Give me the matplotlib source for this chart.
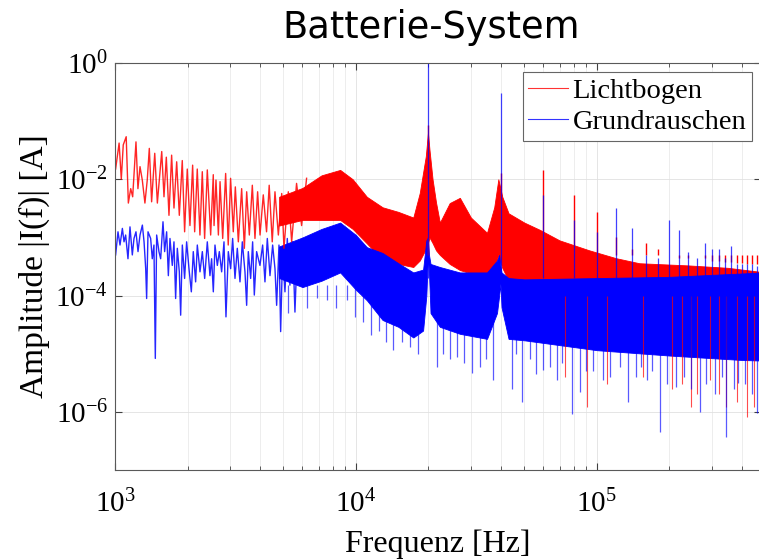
import matplotlib

matplotlib.use("Agg")
import matplotlib.pyplot as plt
from matplotlib.lines import Line2D
from matplotlib.ticker import LogLocator, NullLocator

plt.rcParams["font.family"] = ["Liberation Serif", "DejaVu Serif"]
plt.rcParams["mathtext.fontset"] = "stix"
plt.rcParams["axes.unicode_minus"] = False

# --- low frequency part, read peak by peak (Hz, A) ---
red_lf_freq = [1006, 1040, 1062, 1082, 1113, 1136, 1162, 1184, 1222, 1245, 1270, 1298, 1331, 1361, 1388,
               1419, 1462, 1499, 1563, 1597, 1633, 1675, 1718, 1757, 1803, 1849, 1902, 1945, 1995, 2047,
               2100, 2141, 2195, 2252, 2303, 2355, 2416, 2495, 2558, 2577, 2625, 2686, 2729, 2799, 2879,
               2951, 3018, 3097, 3158, 3250, 3355, 3443, 3520, 3610, 3715, 3810, 3908, 3999, 4125, 4256,
               4365, 4494, 4613, 4764, 4920, 5027, 5240, 5410, 5670, 5950, 6240]
red_lf_amp = [1.5e-2, 4.2e-2, 1.0e-2, 3.9e-2, 5.4e-2, 3.9e-3, 6.9e-3, 5.0e-3, 4.4e-2, 6.9e-3, 1.65e-2, 9.7e-3,
              3.9e-3, 9.7e-3, 3.4e-2, 4.1e-3, 2.8e-2, 3.9e-3, 3.0e-2, 5.0e-3, 2.4e-2, 2.4e-3, 2.6e-2, 3.2e-3,
              2.0e-2, 2.4e-3, 2.1e-2, 1.25e-3, 1.5e-2, 1.6e-3, 1.75e-2, 1.25e-3, 1.5e-2, 1.1e-3, 1.35e-2,
              9.6e-4, 1.45e-2, 1.1e-3, 1.2e-2, 1.6e-3, 9.7e-3, 1.1e-3, 9.1e-3, 9.6e-4, 1.26e-2, 7.4e-4,
              1.04e-2, 1.25e-3, 7.4e-3, 8.4e-4, 6.9e-3, 6.5e-4, 6.1e-3, 1.1e-3, 7.9e-3, 9.6e-4, 6.1e-3,
              1.1e-3, 5.4e-3, 1.25e-3, 7.9e-3, 8.4e-4, 6.1e-3, 1.1e-3, 5.7e-3, 6.5e-4, 6.1e-3, 8.4e-4,
              8.5e-3, 1.6e-3, 1.04e-2]

blue_lf_freq = [1006, 1029, 1049, 1073, 1090, 1107, 1132, 1154, 1180, 1199, 1222, 1246, 1270, 1299, 1320,
                1341, 1353, 1371, 1406, 1428, 1451, 1470, 1489, 1522, 1547, 1582, 1607, 1638, 1665, 1691,
                1729, 1757, 1785, 1814, 1849, 1873, 1903, 1945, 1983, 2028, 2074, 2113, 2161, 2196, 2253,
                2304, 2356, 2416, 2478, 2518, 2559, 2600, 2659, 2710, 2771, 2834, 2888, 2953, 3020, 3078,
                3148, 3218, 3302, 3376, 3463, 3519, 3575, 3656, 3726, 3786, 3871, 3996, 4100, 4192, 4287,
                4398, 4511, 4613, 4687, 4793, 4870, 4963, 5075, 5189, 5322, 5460, 5583, 5709, 5855, 6007,
                6162, 6341]
blue_lf_amp = [5.0e-4, 1.25e-3, 7.4e-4, 1.43e-3, 8.4e-4, 1.1e-3, 4.3e-4, 1.52e-3, 5.0e-4, 9.6e-4, 1.25e-3,
               5.7e-4, 1.1e-3, 1.63e-3, 8.4e-4, 2.9e-4, 8.9e-5, 1.25e-3, 9.6e-4, 4.3e-4, 7.4e-4, 8.3e-6,
               1.1e-3, 5.7e-4, 4.3e-4, 1.86e-3, 5.7e-4, 1.25e-3, 2.2e-4, 9.6e-4, 3.3e-4, 8.4e-4, 8.9e-5,
               6.5e-4, 2.56e-4, 4.6e-5, 7.4e-4, 1.97e-4, 8.4e-4, 2.9e-4, 1.16e-4, 5.7e-4, 1.72e-4, 7.4e-4,
               2.56e-4, 5.7e-4, 1.97e-4, 8.4e-4, 2.2e-4, 4.3e-4, 1.16e-4, 7.4e-4, 3.3e-4, 5.7e-4, 2.56e-4,
               8.4e-4, 4.3e-5, 5.7e-4, 2.9e-4, 9.6e-4, 1.97e-4, 6.5e-4, 1.72e-4, 8.4e-4, 2.56e-4, 6.8e-5,
               5.7e-4, 1.97e-4, 8.4e-4, 1.02e-4, 5.7e-4, 3.3e-4, 7.4e-4, 1.72e-4, 9.6e-4, 2.2e-4, 7.4e-4,
               2.9e-4, 6.8e-5, 7.4e-4, 2.4e-5, 5.7e-4, 1.16e-4, 9.6e-4, 1.51e-4, 8.4e-4, 5.2e-5, 6.5e-4,
               1.72e-4, 9.6e-4, 2.56e-4, 7.4e-4]

# --- dense part: band envelopes (Hz, upper A, lower A) ---
red_env_freq = [4.8e3, 6.0e3, 7.2e3, 8.6e3, 9.7e3, 1.11e4, 1.29e4, 1.5e4, 1.73e4, 1.84e4, 1.95e4, 1.99e4,
                2.02e4, 2.08e4, 2.15e4, 2.23e4, 2.45e4, 2.7e4, 3.0e4, 3.5e4, 3.75e4, 3.9e4, 4.05e4, 4.3e4,
                5.0e4, 5.8e4, 7.0e4, 9.3e4, 1.2e5, 1.5e5, 2.4e5, 3.5e5, 5.0e5]
red_env_hi = [5.0e-3, 7.1e-3, 1.17e-2, 1.45e-2, 1.0e-2, 5.0e-3, 3.3e-3, 2.75e-3, 2.2e-3, 5.8e-3, 2.5e-2, 6.3e-2,
              3.2e-2, 1.0e-2, 4.0e-3, 1.8e-3, 3.9e-3, 4.8e-3, 2.2e-3, 1.2e-3, 3.3e-3, 1.0e-2, 5.0e-3, 2.6e-3,
              1.8e-3, 1.35e-3, 8.9e-4, 6.0e-4, 4.4e-4, 3.6e-4, 3.3e-4, 3.0e-4, 2.5e-4]
red_env_lo = [1.6e-3, 2.0e-3, 2.0e-3, 2.0e-3, 1.4e-3, 7.9e-4, 4.1e-4, 3.5e-4, 3.1e-4, 4.0e-4, 6.3e-4, 8.0e-4,
              1.0e-3, 8.0e-4, 6.0e-4, 5.0e-4, 3.5e-4, 2.75e-4, 2.4e-4, 2.1e-4, 3.0e-4, 5.0e-4, 3.0e-4, 1.8e-4,
              8.0e-5, 3.2e-5, 2.5e-5, 2.2e-5, 2.0e-5, 1.8e-5, 1.7e-5, 1.6e-5, 1.6e-5]

blue_env_freq = [4.8e3, 6.0e3, 7.2e3, 8.6e3, 1.0e4, 1.11e4, 1.29e4, 1.5e4, 1.73e4, 1.9e4, 1.96e4, 1.99e4,
                 2.01e4, 2.04e4, 2.23e4, 2.7e4, 3.5e4, 3.85e4, 3.93e4, 3.98e4, 4.02e4, 4.3e4, 5.0e4, 1.0e5,
                 2.0e5, 4.0e5, 5.0e5]
blue_env_hi = [7.0e-4, 1.0e-3, 1.4e-3, 1.8e-3, 1.1e-3, 6.8e-4, 5.4e-4, 3.6e-4, 2.5e-4, 2.8e-4, 8.9e-4, 1.0e-3,
               5.0e-4, 3.5e-4, 3.1e-4, 2.5e-4, 2.5e-4, 4.0e-4, 5.0e-4, 3.2e-4, 2.5e-4, 2.0e-4, 1.9e-4, 2.0e-4,
               2.1e-4, 2.4e-4, 2.5e-4]
blue_env_lo = [2.0e-4, 1.4e-4, 1.8e-4, 2.5e-4, 1.26e-4, 8.3e-5, 3.8e-5, 2.9e-5, 1.9e-5, 2.5e-5, 1.0e-4, 5.0e-4,
               2.5e-4, 5.0e-5, 2.9e-5, 2.2e-5, 1.8e-5, 5.0e-5, 1.0e-4, 1.6e-4, 6.3e-5, 1.8e-5, 1.7e-5, 1.15e-5,
               9.3e-6, 7.8e-6, 7.6e-6]

# --- harmonics of the 20 kHz switching frequency ---
harm_freq = [2.0e4, 4.0e4, 6.0e4, 8.0e4, 1.0e5, 1.2e5, 1.4e5, 1.6e5, 1.8e5, 2.0e5, 2.2e5, 2.4e5, 2.6e5, 2.8e5,
             3.0e5, 3.2e5, 3.4e5, 3.6e5, 3.8e5, 4.0e5, 4.2e5, 4.4e5, 4.6e5]
harm_red = [8.5e-2, 1.3e-2, 1.45e-2, 5.4e-3, 2.75e-3, 1.0e-3, 6.3e-4, 7.9e-4, 6.3e-4, 5.0e-4, 4.5e-4, 4.5e-4,
            5.0e-4, 4.5e-4, 4.0e-4, 4.0e-4, 3.8e-4, 3.8e-4, 3.6e-4, 3.6e-4, 3.5e-4, 3.5e-4, 3.5e-4]
harm_blue = [1.2, 3.0e-1, 5.4e-3, 2.0e-3, 1.26e-3, 3.2e-3, 1.45e-3, 5.0e-4, 4.5e-4, 2.0e-3, 1.35e-3, 5.6e-4,
             4.5e-4, 7.9e-4, 6.3e-4, 6.3e-4, 4.5e-4, 7.0e-4, 3.5e-4, 3.5e-4, 3.5e-4, 3.5e-4, 3.2e-4]

# --- deep downward dips ---
blue_dip_freq = [5.2e3, 6.24e3, 6.9e3, 7.6e3, 8.3e3, 9.15e3, 9.9e3, 1.07e4, 1.16e4, 1.25e4, 1.33e4, 1.42e4,
                 1.55e4, 1.67e4, 1.81e4, 2.16e4, 2.3e4, 2.45e4, 2.62e4, 2.8e4, 3.02e4, 3.27e4, 3.45e4, 3.72e4,
                 4.43e4, 4.6e4, 4.87e4, 5.3e4, 5.6e4, 5.99e4, 6.4e4, 6.8e4, 7.2e4, 7.85e4, 8.5e4, 9.0e4, 9.6e4,
                 1.06e5, 1.13e5, 1.25e5, 1.35e5, 1.45e5, 1.52e5, 1.61e5, 1.7e5, 1.83e5, 1.95e5, 2.14e5, 2.3e5,
                 2.45e5, 2.67e5, 2.85e5, 3.1e5, 3.3e5, 3.45e5, 3.7e5, 3.86e5, 4.1e5, 4.4e5, 4.6e5]
blue_dip_amp = [5.0e-5, 6.0e-5, 9.0e-5, 8.3e-5, 6.0e-5, 8.3e-5, 4.3e-5, 3.5e-5, 2.1e-5, 2.5e-5, 1.6e-5, 1.15e-5,
                1.6e-5, 1.3e-5, 1.0e-5, 5.9e-6, 1.0e-5, 8.0e-6, 8.7e-6, 7.0e-6, 4.6e-6, 5.9e-6, 8.0e-6, 3.5e-6,
                2.5e-6, 1.0e-5, 1.48e-6, 8.0e-6, 4.5e-6, 5.2e-6, 6.0e-6, 3.5e-6, 7.0e-6, 9.3e-7, 2.2e-6, 5.0e-6,
                5.0e-6, 3.5e-6, 4.0e-6, 6.0e-6, 1.48e-6, 4.0e-6, 6.0e-6, 3.5e-6, 5.0e-6, 4.5e-7, 3.0e-6, 2.7e-6,
                4.0e-6, 2.5e-6, 1.0e-6, 3.0e-6, 2.0e-6, 4.0e-6, 3.7e-7, 2.5e-6, 3.1e-6, 3.0e-6, 2.0e-6, 9.5e-7]
red_dip_freq = [7.4e4, 9.1e4, 1.1e5, 1.55e5, 2.05e5, 2.25e5, 2.47e5, 2.6e5, 2.94e5, 3.2e5, 3.45e5, 3.8e5,
                4.18e5, 4.5e5]
red_dip_amp = [4.0e-6, 1.2e-6, 3.0e-6, 4.0e-6, 2.5e-6, 3.0e-6, 1.2e-6, 2.0e-6, 3.5e-6, 2.0e-6, 1.2e-6, 1.5e-6,
               8.2e-7, 1.2e-6]

RED = "#ff0000"
BLUE = "#0000ff"

fig = plt.figure(figsize=(7.59, 5.6), dpi=100)
ax = fig.add_axes([115 / 759, 90 / 560, 646 / 759, 407 / 560])

# Lichtbogen
ax.plot(red_lf_freq, red_lf_amp, color=RED, lw=1.0, alpha=0.85)
ax.fill_between(red_env_freq, red_env_lo, red_env_hi, color=RED, lw=0.6)
ax.vlines(harm_freq, 5e-4, harm_red, color=RED, lw=1.0)
ax.vlines(red_dip_freq, red_dip_amp, 1e-4, color=RED, lw=0.8, alpha=0.7)

# Grundrauschen
ax.plot(blue_lf_freq, blue_lf_amp, color=BLUE, lw=1.0, alpha=0.85)
ax.fill_between(blue_env_freq, blue_env_lo, blue_env_hi, color=BLUE, lw=0.6)
ax.vlines(blue_dip_freq, blue_dip_amp, 1.5e-4, color=BLUE, lw=0.9, alpha=0.65)
ax.vlines(harm_freq, 2e-4, harm_blue, color=BLUE, lw=0.9, alpha=0.75)

ax.set_xscale("log")
ax.set_yscale("log")
ax.set_xlim(1e3, 4.8e5)
ax.set_ylim(1e-7, 1e0)
ax.set_yticks([1e-6, 1e-4, 1e-2, 1e0])
ax.yaxis.set_minor_locator(NullLocator())
ax.xaxis.set_minor_locator(LogLocator(base=10, subs=range(2, 10)))

ax.grid(True, which="major", color="0.88", lw=0.6)
ax.grid(True, which="minor", axis="x", color="0.9", lw=0.5)
ax.set_axisbelow(True)
ax.tick_params(which="both", direction="in", top=True, right=True, labelsize=21, color="0.25")
ax.tick_params(which="major", length=5)
ax.tick_params(which="minor", length=3)
ax.tick_params(axis="x", pad=14)
ax.tick_params(axis="y", pad=5)
for sp in ax.spines.values():
    sp.set_color("0.35")
    sp.set_linewidth(0.8)

ax.set_xlabel("Frequenz [Hz]", fontsize=23, labelpad=8)
ax.set_ylabel("Amplitude |I(f)| [A]", fontsize=24, labelpad=4)

fig.text(431 / 759, 1 - 28 / 560, "Batterie-System", family=["DejaVu Sans"],
         fontsize=26.5, ha="center", va="center")

handles = [Line2D([], [], color=RED, lw=0.8, alpha=0.8), Line2D([], [], color=BLUE, lw=0.8, alpha=0.8)]
leg = ax.legend(handles, ["Lichtbogen", "Grundrauschen"], loc="upper right",
                bbox_to_anchor=(752 / 759, 1 - 72 / 560), bbox_transform=fig.transFigure,
                borderaxespad=0, fontsize=20.5, fancybox=False, framealpha=1, edgecolor="0.4",
                handlelength=1.4, handletextpad=0.15, borderpad=0.2, labelspacing=0.2)
leg.get_frame().set_linewidth(0.8)

fig.savefig("out.png", dpi=100, facecolor="white")
